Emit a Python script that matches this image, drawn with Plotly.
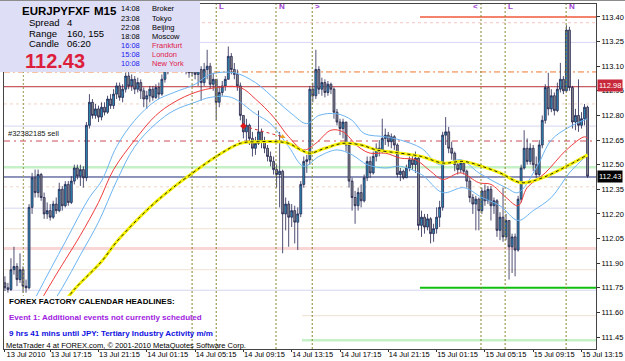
import plotly.graph_objects as go

# ---------------- data ----------------
first_open = 111.78
close = [111.75,111.74,111.86,111.88,111.80,111.86,111.76,111.75,112.24,112.42,
         112.33,112.44,112.30,112.20,112.22,112.18,112.26,112.22,112.35,112.25,
         112.38,112.27,112.40,112.48,112.43,112.47,112.42,112.74,112.88,112.80,
         112.84,112.79,112.85,112.82,112.90,112.86,112.93,112.98,112.91,112.96,
         113.04,112.98,113.02,112.96,113.00,112.95,112.90,112.92,112.96,112.91,
         112.97,112.93,113.02,113.08,113.12,113.15,113.10,113.14,113.18,113.12,
         113.09,113.06,113.10,113.05,113.08,113.00,113.08,113.10,112.99,113.02,
         112.88,112.94,112.98,113.02,113.16,113.08,113.05,112.98,112.80,112.70,
         112.74,112.66,112.60,112.63,112.70,112.64,112.60,112.55,112.52,112.47,
         112.44,112.46,112.20,112.26,112.18,112.22,112.15,112.20,112.38,112.52,
         112.53,112.96,112.92,113.08,112.96,113.00,112.94,112.99,112.96,112.82,
         112.76,112.72,112.76,112.62,112.40,112.30,112.25,112.33,112.28,112.42,
         112.52,112.45,112.55,112.60,112.58,112.66,112.68,112.64,112.67,112.62,
         112.44,112.46,112.42,112.48,112.53,112.50,112.54,112.13,112.18,112.12,
         112.17,112.08,112.11,112.18,112.24,112.68,112.70,112.60,112.57,112.50,
         112.47,112.51,112.46,112.40,112.30,112.26,112.29,112.22,112.34,112.28,
         112.35,112.25,112.28,112.10,112.18,112.06,112.16,112.00,112.06,111.98,
         112.29,112.48,112.60,112.52,112.60,112.50,112.44,112.62,112.77,112.97,
         112.84,112.92,112.83,112.96,113.02,112.95,113.32,112.97,112.76,112.80,
         112.74,112.78,112.85,112.43]
high = [111.82,111.78,111.93,112.00,111.90,111.96,111.88,111.80,112.26,112.45,
        112.47,112.47,112.45,112.33,112.27,112.26,112.28,112.30,112.39,112.37,
        112.40,112.40,112.43,112.50,112.50,112.50,112.49,112.76,112.93,112.90,
        112.87,112.86,112.88,112.88,112.92,112.93,112.96,113.00,113.00,112.99,
        113.06,113.10,113.05,113.04,113.03,113.02,112.97,112.95,112.98,112.98,
        112.99,113.00,113.05,113.10,113.15,113.20,113.18,113.19,113.22,113.20,
        113.15,113.12,113.14,113.12,113.11,113.10,113.12,113.20,113.12,113.06,
        113.02,112.98,113.01,113.04,113.22,113.18,113.12,113.08,113.00,112.80,
        112.78,112.75,112.70,112.67,112.83,112.72,112.67,112.62,112.58,112.55,
        112.50,112.70,112.47,112.30,112.28,112.26,112.25,112.24,112.40,112.55,
        112.56,112.98,113.00,113.20,113.10,113.03,113.02,113.01,113.00,112.97,
        112.84,112.78,112.78,112.76,112.64,112.42,112.34,112.36,112.38,112.44,
        112.55,112.55,112.58,112.63,112.65,112.78,112.72,112.70,112.69,112.68,
        112.63,112.48,112.47,112.50,112.55,112.56,112.58,112.55,112.22,112.20,
        112.20,112.18,112.14,112.24,112.28,112.70,112.79,112.73,112.64,112.58,
        112.52,112.53,112.52,112.47,112.42,112.32,112.31,112.30,112.36,112.38,
        112.37,112.37,112.30,112.29,112.21,112.36,112.20,112.15,112.08,112.08,
        112.31,112.50,112.71,112.66,112.63,112.62,112.55,112.65,112.80,112.99,
        113.06,112.96,112.94,113.00,113.12,113.04,113.35,113.34,112.98,112.84,
        113.02,112.82,112.87,112.86]
low = [111.73,111.72,111.73,111.83,111.76,111.78,111.72,111.72,111.74,112.20,
       112.30,112.30,112.28,112.17,112.17,112.16,112.17,112.20,112.21,112.22,
       112.24,112.25,112.26,112.38,112.41,112.37,112.36,112.40,112.72,112.78,
       112.78,112.76,112.77,112.80,112.81,112.84,112.84,112.90,112.89,112.88,
       112.94,112.96,112.95,112.93,112.94,112.90,112.85,112.84,112.88,112.89,
       112.90,112.90,112.92,113.00,113.05,113.10,113.07,113.08,113.12,113.09,
       113.05,113.03,113.04,113.02,112.98,112.89,112.98,113.02,112.96,112.95,
       112.77,112.85,112.92,112.95,113.02,113.05,113.02,112.95,112.77,112.66,
       112.64,112.62,112.55,112.56,112.62,112.60,112.57,112.52,112.49,112.44,
       112.36,112.24,111.96,112.10,112.00,112.12,112.02,111.98,112.18,112.36,
       112.45,112.50,112.88,112.90,112.93,112.92,112.91,112.92,112.93,112.78,
       112.74,112.68,112.66,112.58,112.36,112.22,112.14,112.22,112.24,112.27,
       112.40,112.42,112.44,112.52,112.55,112.57,112.62,112.61,112.60,112.59,
       112.42,112.40,112.41,112.42,112.46,112.47,112.45,112.10,112.06,112.08,
       112.10,112.02,112.03,112.08,112.12,112.22,112.62,112.57,112.53,112.46,
       112.44,112.45,112.44,112.36,112.27,112.20,112.10,112.10,112.20,112.25,
       112.26,112.16,112.20,112.06,112.04,112.03,112.04,111.80,111.84,111.82,
       111.97,112.27,112.47,112.50,112.50,112.46,112.42,112.43,112.60,112.75,
       112.80,112.82,112.80,112.82,112.94,112.93,112.94,112.95,112.72,112.71,
       112.70,112.72,112.74,112.42]

tick_bars = [0, 15, 31, 47, 63, 79, 95, 111, 127, 143, 159, 175, 191]
tick_text = ["13 Jul 2010", "13 Jul 17:15", "13 Jul 21:15", "14 Jul 01:15", "14 Jul 05:15",
             "14 Jul 09:15", "14 Jul 13:15", "14 Jul 17:15", "14 Jul 21:15", "15 Jul 01:15",
             "15 Jul 05:15", "15 Jul 09:15", "15 Jul 13:15"]
price_ticks = [113.40, 113.25, 113.10, 112.95, 112.80, 112.65, 112.50, 112.35,
               112.20, 112.05, 111.90, 111.75, 111.60, 111.45]

# indicator lines, sampled at bars
red_k = [8,16,20,25,31,36,43,50,56,63,70,78,83,89,94,99,103,108,112,117,
         121,126,131,136,141,145,151,157,161,166,170,173,179,186,192,193]
red_v = [111.55,111.80,111.92,112.07,112.27,112.47,112.65,112.80,112.88,112.94,
         112.97,112.97,112.90,112.79,112.67,112.59,112.63,112.71,112.70,112.61,
         112.57,112.57,112.54,112.53,112.46,112.41,112.45,112.39,112.38,112.30,
         112.25,112.36,112.45,112.59,112.67,112.66]
ub_k = [5,11,20,28,32,37,43,50,56,63,68,76,83,90,95,100,104,110,115,119,
        126,131,138,144,151,157,166,170,176,181,187,193]
ub_v = [111.50,111.72,112.03,112.30,112.40,112.61,112.77,112.89,112.94,112.99,
        113.05,113.06,113.00,112.89,112.81,112.75,112.80,112.81,112.77,112.69,
        112.67,112.65,112.60,112.50,112.53,112.45,112.36,112.33,112.48,112.65,
        112.73,112.78]
lb_k = [12,19,25,31,37,43,50,56,63,68,75,83,88,94,99,104,110,115,120,126,
        131,138,145,152,158,164,170,175,181,187,193]
lb_v = [111.55,111.75,111.95,112.15,112.40,112.61,112.75,112.83,112.88,112.91,
        112.91,112.81,112.75,112.61,112.49,112.55,112.59,112.56,112.50,112.48,
        112.49,112.44,112.33,112.36,112.30,112.25,112.16,112.22,112.30,112.45,
        112.56]
yl_k = [18,23,32,37,48,55,60,70,78,84,90,94,98,101,106,112,118,123,131,138,
        145,152,158,164,171,178,186,193]
yl_v = [111.62,111.74,111.91,112.03,112.24,112.35,112.42,112.55,112.63,112.64,
        112.64,112.63,112.59,112.57,112.60,112.63,112.62,112.59,112.57,112.55,
        112.51,112.52,112.49,112.45,112.39,112.42,112.49,112.56]

trade_k = [79, 92]
trade_v = [112.735, 112.67]

# horizontal levels: price, start bar (None = full width)
level_price = [113.40, 113.365, 113.245, 113.065, 112.975, 112.87, 112.735, 112.645,
               112.485, 112.425, 112.365, 112.235, 112.11, 111.99, 111.86, 111.735,
               111.75, 111.58, 111.43]
level_start = [137.5, None, None, None, None, None, None, None,
               None, None, None, None, None, None, None, None,
               137.5, 98.0, 98.0]
level_style = [("#f05a3c", 1.5, "solid"), ("#f2c4c4", 1, "dot"), ("#d6d6f2", 1, "solid"),
               ("#f07a30", 1, "6px,3px,2px,3px"), ("#b83236", 1, "solid"), ("#f0d6c6", 1, "dot"),
               ("#d6d6f2", 1, "solid"), ("#e08890", 1.5, "6px,4px,2px,4px"),
               ("#c6f0c6", 2.5, "solid"), ("#1e2a78", 1, "solid"), ("#f0d6c6", 1, "dot"),
               ("#d6d6f2", 1, "solid"), ("#f0e2d2", 1, "solid"), ("#f8d6d6", 3, "solid"),
               ("#f0e2d2", 1, "solid"), ("#d6d6f2", 1, "solid"), ("#10c010", 2, "solid"),
               ("#eee0d0", 1, "solid"), ("#c6f0c6", 2.5, "solid")]

vline_bars = [6.1, 62.0, 70.0, 89.8, 101.8, 157.7, 165.7, 185.9]
marker_text = [None, None, "L", "N", ">", "<", "L", "N"]

open_ = [first_open] + close[:-1]
high = [max(h, o, c) for h, o, c in zip(high, open_, close)]
low = [min(l, o, c) for l, o, c in zip(low, open_, close)]
bars = list(range(len(close)))

# ---------------- geometry helpers ----------------
W, H = 625, 361
L_, R_, T_, B_ = 4, 29, 4, 12
PW, PH = W - L_ - R_, H - T_ - B_
def px(x):
    return (x - L_) / PW
def py(y):
    return (H - B_ - y) / PH

YMIN, YMAX = 111.377, 113.479
XMIN, XMAX = -0.3, 195.8
FONT = "Liberation Sans, Arial, sans-serif"

fig = go.Figure()

fig.add_trace(go.Candlestick(
    x=bars, open=open_, high=high, low=low, close=close,
    increasing=dict(fillcolor="#2a8fb8", line=dict(color="#23234f", width=0.8)),
    decreasing=dict(fillcolor="#8a8a8a", line=dict(color="#23234f", width=0.8)),
    whiskerwidth=0, showlegend=False, hoverinfo="skip"))

for k, v, col in [(ub_k, ub_v, "#6cb4f2"), (lb_k, lb_v, "#6cb4f2"), (red_k, red_v, "#f03c3c")]:
    fig.add_trace(go.Scatter(x=k, y=v, mode="lines", line=dict(color=col, width=1, shape="spline"),
                             showlegend=False, hoverinfo="skip"))
fig.add_trace(go.Scatter(x=yl_k, y=yl_v, mode="lines", line=dict(color="#f4f000", width=3, shape="spline"),
                         showlegend=False, hoverinfo="skip"))
fig.add_trace(go.Scatter(x=yl_k, y=yl_v, mode="lines",
                         line=dict(color="#2a2a10", width=1, shape="spline", dash="3px,3px"),
                         showlegend=False, hoverinfo="skip"))
fig.add_trace(go.Scatter(x=trade_k, y=trade_v, mode="lines+markers",
                         line=dict(color="#e03030", width=1, dash="dot"),
                         marker=dict(symbol=["diamond", "triangle-up"], size=5,
                                     color=["#e01818", "#f0a020"]),
                         showlegend=False, hoverinfo="skip"))

shapes = []
for p, s, (c, w, d) in zip(level_price, level_start, level_style):
    if s is None:
        shapes.append(dict(type="line", xref="paper", yref="y", x0=0, x1=1, y0=p, y1=p,
                           line=dict(color=c, width=w, dash=d), layer="below"))
    else:
        shapes.append(dict(type="line", xref="x", yref="y", x0=s, x1=XMAX, y0=p, y1=p,
                           line=dict(color=c, width=w, dash=d), layer="below"))
# first vertical (under the headline panel)
shapes.append(dict(type="line", xref="x", yref="paper", x0=vline_bars[0], x1=vline_bars[0], y0=0, y1=1,
                   line=dict(color="#9a9a50", width=1, dash="2px,2px"), layer="above"))
# headline panel (white) at lower left
shapes.append(dict(type="rect", xref="paper", yref="paper", x0=0, x1=px(302), y0=0, y1=py(296),
                   fillcolor="white", line=dict(width=0), layer="above"))
for xv in vline_bars[1:]:
    shapes.append(dict(type="line", xref="x", yref="paper", x0=xv, x1=xv, y0=0, y1=1,
                       line=dict(color="#86862e", width=1, dash="2px,2px"), layer="above"))
# info box
shapes.append(dict(type="rect", xref="paper", yref="paper", x0=px(0), x1=px(200), y0=py(72), y1=py(0),
                   fillcolor="#dedef6", line=dict(width=0), layer="above"))
# window frame line at the very top
shapes.append(dict(type="line", xref="paper", yref="paper", x0=px(0), x1=px(625), y0=py(0.5), y1=py(0.5),
                   line=dict(color="#8c8c8c", width=1), layer="above"))

ann = []
def txt(x, y, s, size=8, color="black", bold=False, anchor="left"):
    ann.append(dict(xref="paper", yref="paper", x=px(x), y=py(y), text=("<b>%s</b>" % s) if bold else s,
                    showarrow=False, xanchor=anchor, yanchor="middle",
                    font=dict(family=FONT, size=size, color=color)))

txt(20, 11, "EURJPYFXF", 11.5, bold=True)
txt(92, 11, "M15", 11.5, bold=True)
txt(27, 23, "Spread", 9.5); txt(65, 23, "4", 9.5)
txt(27, 33.5, "Range", 9.5); txt(65, 33.5, "160, 155", 9.5)
txt(27, 44, "Candle", 9.5); txt(65, 44, "06:20", 9.5)
txt(23, 61, "112.43", 20, color="#dc1e3c", bold=True)
clock_t = ["14:08", "23:08", "22:08", "18:08", "16:08", "15:08", "10:08"]
clock_c = ["Broker", "Tokyo", "Beijing", "Moscow", "Frankfurt", "London", "New York"]
for i, (t, c) in enumerate(zip(clock_t, clock_c)):
    yy = 9 + i * 9.05
    hl = i >= 4
    txt(119, yy, t, 7.5, color="#2222ee" if hl else "black")
    txt(150, yy, c, 7.5, color="#e0204a" if hl else "black")

txt(7, 301, "FOREX FACTORY CALENDAR HEADLINES:", 8, bold=True)
txt(7, 317, "Event 1: Additional events not currently scheduled", 8, color="#a020e0", bold=True)
txt(7, 333, "9 hrs 41 mins until JPY: Tertiary Industry Activity m/m", 8, color="#1010e0", bold=True)
txt(4, 345, "MetaTrader 4 at FOREX.com, © 2001-2010 MetaQuotes Software Corp.", 7.5)

ann.append(dict(xref="x", yref="y", x=0.3, y=112.69, text="#32382185 sell", showarrow=False,
                xanchor="left", yanchor="middle", font=dict(family=FONT, size=7.5, color="#202020")))

for xv, m in zip(vline_bars, marker_text):
    if m:
        ann.append(dict(xref="x", yref="paper", x=xv, y=py(7), text="<b>%s</b>" % m, showarrow=False,
                        xanchor="right" if m == "<" else "left", xshift=-1 if m == "<" else 1,
                        yanchor="middle", font=dict(family=FONT, size=8, color="#a040d0")))

for p, bg in [(112.98, "#c8283c"), (112.43, "#000000")]:
    ann.append(dict(xref="paper", yref="y", x=1, y=p, text="%.2f" % p, showarrow=False,
                    xanchor="left", yanchor="middle", xshift=1, bgcolor=bg, borderpad=1,
                    font=dict(family=FONT, size=7.5, color="white")))

fig.update_layout(
    width=W, height=H, margin=dict(l=L_, r=R_, t=T_, b=B_, autoexpand=False),
    paper_bgcolor="white", plot_bgcolor="white", boxgap=0.1,
    shapes=shapes, annotations=ann, showlegend=False,
    xaxis=dict(range=[XMIN, XMAX], rangeslider=dict(visible=False), showgrid=False, zeroline=False,
               automargin=False,
               tickvals=tick_bars, ticktext=tick_text, ticks="outside", ticklen=2, tickcolor="#333",
               tickfont=dict(family=FONT, size=7.5, color="black"), ticklabelshift=21,
               ticklabelstandoff=-4,
               showline=True, linecolor="#444", mirror=True),
    yaxis=dict(range=[YMIN, YMAX], side="right", showgrid=False, zeroline=False,
               automargin=False,
               tickvals=price_ticks, ticktext=["%.2f" % v for v in price_ticks],
               ticks="outside", ticklen=3, tickcolor="#333",
               tickfont=dict(family=FONT, size=7.5, color="black"),
               showline=True, linecolor="#444", mirror=True),
)

fig.write_html("out.html")
